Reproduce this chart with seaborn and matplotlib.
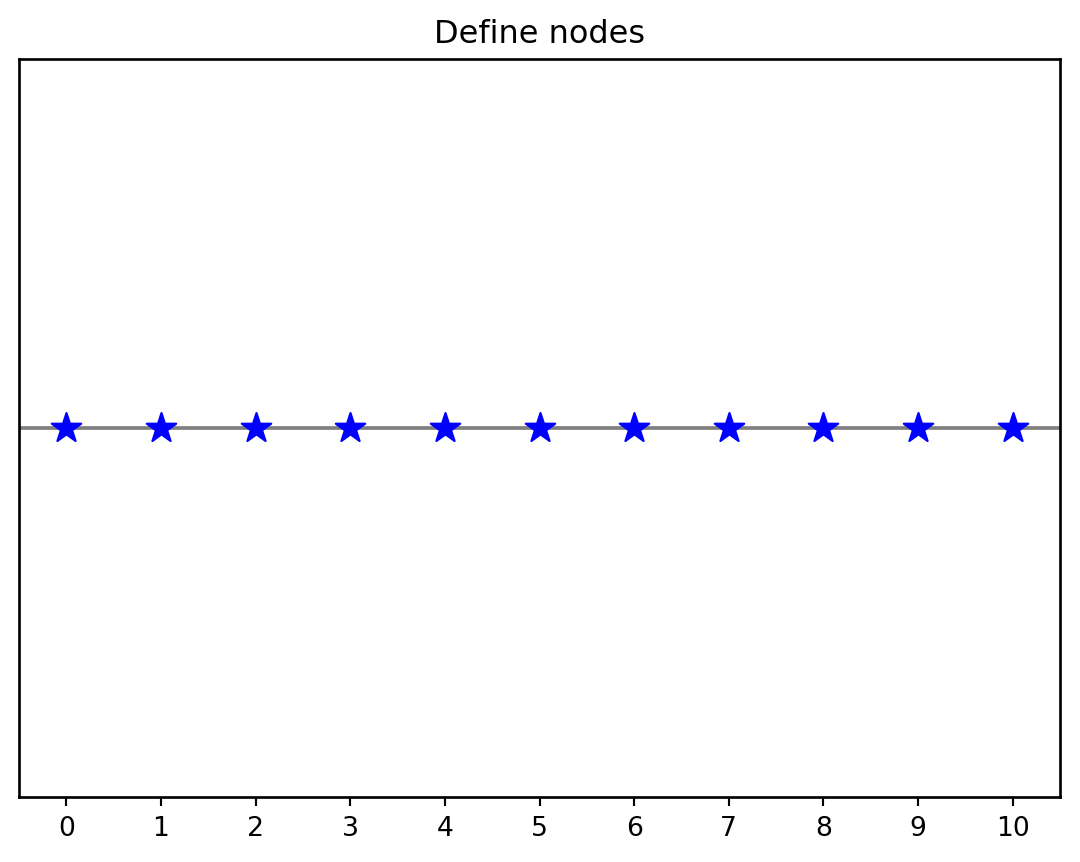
import numpy as np
import pandas as pd
import matplotlib
matplotlib.use("Agg")
import matplotlib.pyplot as plt
import seaborn as sns

# nodos sobre la recta
nodos = [0, 1, 2, 3, 4, 5, 6, 7, 8, 9, 10]
altura = [0, 0, 0, 0, 0, 0, 0, 0, 0, 0, 0]
etiquetas_x = [str(n) for n in nodos]

df = pd.DataFrame({"x": nodos, "y": altura})

dpi = 192
fig = plt.figure(figsize=(1080 / dpi, 862 / dpi), dpi=dpi)
ax = fig.add_axes([19 / 1080, 1 - 797 / 862, (1060 - 19) / 1080, (797 - 59) / 862])

ax.axhline(0, color="gray", linewidth=1.4, zorder=1)
sns.scatterplot(data=df, x="x", y="y", marker="*", s=135, color="blue",
                edgecolor="blue", linewidth=0.8, ax=ax, zorder=2)

ax.set_xlim(-0.5, 10.5)
ax.set_ylim(-1, 1)
ax.set_xticks(nodos)
ax.set_xticklabels(etiquetas_x)
ax.set_yticks([])
ax.set_xlabel("")
ax.set_ylabel("")
ax.tick_params(axis="x", labelsize=10)
ax.set_title("Define nodes", fontsize=12)
for s in ax.spines.values():
    s.set_linewidth(1.0)

fig.savefig("out.png", dpi=dpi)
